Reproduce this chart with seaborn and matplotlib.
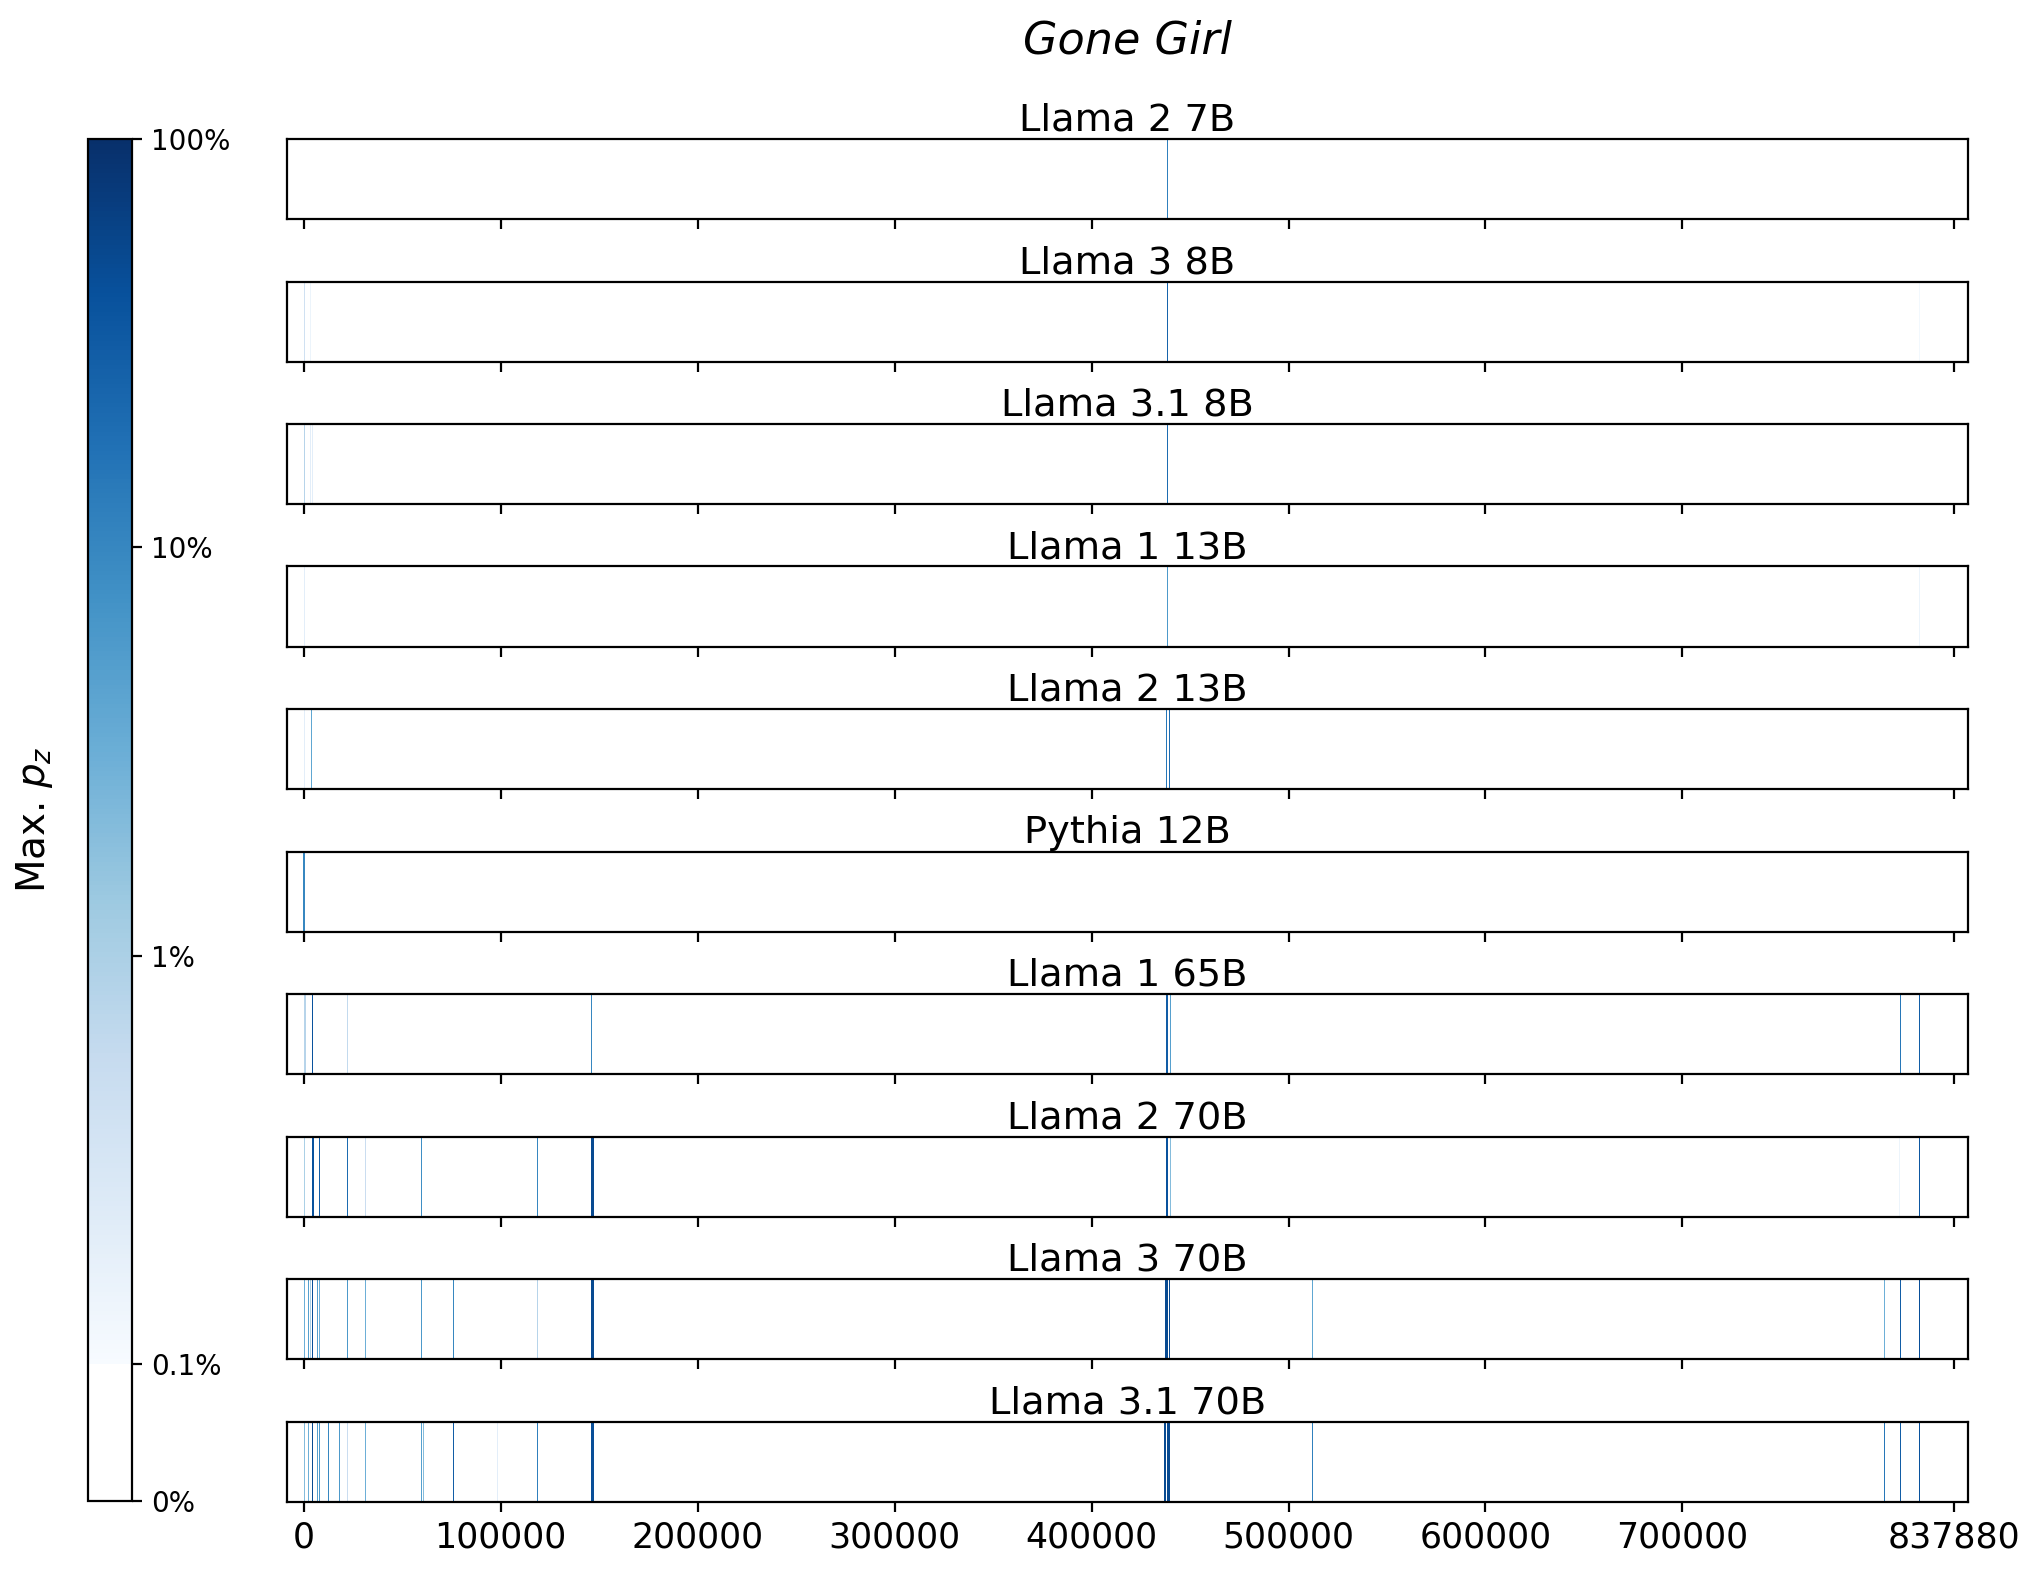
import numpy as np
import matplotlib
matplotlib.use('Agg')
import matplotlib.pyplot as plt
import matplotlib.colors as mcolors
import seaborn as sns

# book and models
title = 'Gone Girl'
book_len = 837880
models = ['Llama 2 7B', 'Llama 3 8B', 'Llama 3.1 8B', 'Llama 1 13B', 'Llama 2 13B',
          'Pythia 12B', 'Llama 1 65B', 'Llama 2 70B', 'Llama 3 70B', 'Llama 3.1 70B']
xtick_vals = [0, 100000, 200000, 300000, 400000, 500000, 600000, 700000, book_len]
cbar_ticks = [0, 0.001, 0.01, 0.1, 1]
cbar_labels = ['0%', '0.1%', '1%', '10%', '100%']

# positions (character offset) and max p_z
pos_l2_7 = [438800]
val_l2_7 = [0.12]
pos_l3_8 = [300, 3300, 438800, 820500]
val_l3_8 = [0.004, 0.0015, 0.25, 0.0012]
pos_l31_8 = [300, 3300, 4300, 438800]
val_l31_8 = [0.008, 0.002, 0.002, 0.2]
pos_l1_13 = [300, 438800, 820500]
val_l1_13 = [0.002, 0.06, 0.0015]
pos_l2_13 = [300, 4000, 438000, 439600]
val_l2_13 = [0.002, 0.04, 0.15, 0.2]
pos_py_12 = [0, 500]
val_py_12 = [0.1, 0.1]
pos_l1_65 = [300, 1000, 4400, 22200, 146000, 438000, 438700, 439900, 810600, 820500]
val_l1_65 = [0.008, 0.008, 0.4, 0.006, 0.1, 0.3, 0.3, 0.05, 0.15, 0.3]
pos_l2_70 = [300, 4400, 5000, 7950, 22200, 31300, 60000, 118800, 146000, 146700, 147300,
             438000, 438700, 439900, 810000, 820500]
val_l2_70 = [0.01, 0.4, 0.4, 0.3, 0.2, 0.005, 0.08, 0.1, 0.5, 0.5, 0.5,
             0.4, 0.4, 0.02, 0.0015, 0.35]
pos_l3_70 = [300, 2350, 3300, 4400, 7100, 7950, 22200, 31300, 60000, 76000, 118800,
             146000, 146700, 147300, 437500, 438200, 438800, 439500, 512000,
             802700, 810600, 820500]
val_l3_70 = [0.03, 0.05, 0.01, 0.45, 0.05, 0.03, 0.06, 0.03, 0.06, 0.1, 0.008,
             0.5, 0.5, 0.5, 0.5, 0.5, 0.5, 0.5, 0.04,
             0.03, 0.3, 0.45]
pos_l31_70 = [300, 2350, 4400, 7100, 7950, 12500, 18100, 22200, 31300, 60000, 60600,
              76000, 98200, 118800, 146000, 146700, 147300, 437000, 437700, 438400,
              439100, 439600, 512000, 802700, 810600, 820500]
val_l31_70 = [0.02, 0.03, 0.5, 0.05, 0.06, 0.1, 0.06, 0.005, 0.03, 0.05, 0.02,
              0.3, 0.002, 0.12, 0.45, 0.45, 0.45, 0.5, 0.5, 0.5,
              0.5, 0.5, 0.12, 0.15, 0.3, 0.4]

positions = [pos_l2_7, pos_l3_8, pos_l31_8, pos_l1_13, pos_l2_13,
             pos_py_12, pos_l1_65, pos_l2_70, pos_l3_70, pos_l31_70]
values = [val_l2_7, val_l3_8, val_l31_8, val_l1_13, val_l2_13,
          val_py_12, val_l1_65, val_l2_70, val_l3_70, val_l31_70]

# layout in pixels
W, H = 2035, 1573
dpi = 200
fig = plt.figure(figsize=(W / dpi, H / dpi), dpi=dpi)

x0, x1 = -8500, 845000
ncols = 1681
binw = (x1 - x0) / ncols

# white below 0.1%, Blues on a log scale above
blues = plt.get_cmap('Blues')
cols = np.vstack([np.ones((100, 4)), blues(np.linspace(0, 1, 900))])
cmap = mcolors.ListedColormap(cols)
norm = mcolors.SymLogNorm(linthresh=1e-3, linscale=0.3, vmin=0, vmax=1, base=10)

ax_left, ax_w, ax_h, pitch, top0 = 287, 1681, 80, 142.5, 139
for i, name in enumerate(models):
    top = top0 + i * pitch
    ax = fig.add_axes([ax_left / W, (H - top - ax_h) / H, ax_w / W, ax_h / H])
    grid = np.zeros(ncols)
    for p, v in zip(positions[i], values[i]):
        k = int((p - x0) / binw)
        grid[k] = max(grid[k], v)
    sns.heatmap(grid[None, :], ax=ax, cmap=cmap, norm=norm, cbar=False,
                xticklabels=False, yticklabels=False)
    for s in ax.spines.values():
        s.set_visible(True)
        s.set_linewidth(0.8)
        s.set_color('black')
    ax.set_xticks([(t - x0) / binw for t in xtick_vals])
    if i == len(models) - 1:
        ax.set_xticklabels([str(t) for t in xtick_vals], fontsize=12.5)
    else:
        ax.set_xticklabels([])
    ax.tick_params(axis='x', bottom=True, length=3.5, width=0.8)
    ax.set_yticks([])
    ax.set_title(name, fontsize=13.8, pad=3)

# colorbar on the left
cax = fig.add_axes([88 / W, (H - 1500.5) / H, 44 / W, 1361.5 / H])
sm = plt.cm.ScalarMappable(norm=norm, cmap=cmap)
cb = fig.colorbar(sm, cax=cax, ticks=cbar_ticks)
cb.minorticks_off()
cb.ax.set_yticklabels(cbar_labels, fontsize=10)
cb.outline.set_linewidth(0.8)
cb.set_label('Max. $p_z$', fontsize=14, labelpad=12)
cb.ax.yaxis.set_label_position('left')

fig.text(1127.5 / W, (H - 54) / H, title, ha='center', va='baseline',
         fontsize=16, style='italic')

fig.savefig('out.png', dpi=dpi)
